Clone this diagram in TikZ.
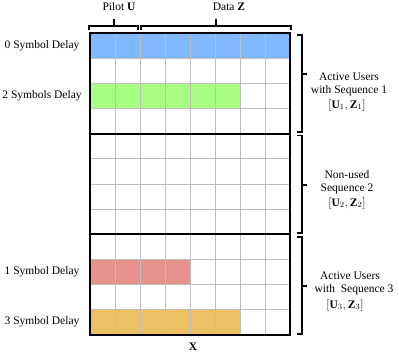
\documentclass[tikz,border=0pt]{standalone}
\usepackage{fontspec}
\setmainfont{Liberation Serif}
\definecolor{barblue}{RGB}{128,185,255}
\definecolor{bargreen}{RGB}{166,255,128}
\definecolor{barpink}{RGB}{230,145,140}
\definecolor{baryellow}{RGB}{236,192,100}
\definecolor{gridgray}{RGB}{190,190,190}
\begin{document}
\begin{tikzpicture}[x=1pt,y=-1pt,
  lab/.style={font=\fontsize{11.5}{14}\selectfont, inner sep=0pt},
  brk/.style={line width=1.6pt},
  cell/.style={draw=gridgray, line width=0.9pt},
  frame/.style={line width=1.8pt}]
\useasboundingbox (0,0) rectangle (399,356);
% coloured bars
\fill[barblue] (90,33) rectangle (290,58.17);
\fill[bargreen] (90,83.33) rectangle (240,108.5);
\fill[barpink] (90,259.5) rectangle (190,284.67);
\fill[baryellow] (90,309.83) rectangle (240,335);
% grid
\foreach \i in {1,...,7} \draw[cell] ({90+25*\i},33) -- ({90+25*\i},335);
\foreach \k in {1,...,11} \draw[cell] (90,{33+25.1667*\k}) -- (290,{33+25.1667*\k});
% thick frame and section lines
\draw[frame] (90,33) rectangle (290,335);
\draw[frame] (90,133.67) -- (290,133.67);
\draw[frame] (90,234.33) -- (290,234.33);
% top brackets
\draw[brk] (89,29.5) -- (89,26) -- (138,26) -- (138,29.5);
\draw[brk] (114,26) -- (114,19);
\draw[brk] (141,29.5) -- (141,26) -- (291,26) -- (291,29.5);
\draw[brk] (216,26) -- (216,19);
% right brackets
\draw[brk] (297,35) -- (302,35) -- (302,132) -- (297,132);
\draw[brk] (302,74) -- (307,74);
\draw[brk] (297,135.5) -- (302,135.5) -- (302,233) -- (297,233);
\draw[brk] (302,185) -- (307,185);
\draw[brk] (297,237) -- (302,237) -- (302,334) -- (297,334);
\draw[brk] (302,286) -- (307,286);
% top labels
\node[lab] (pilot) at (119,7) {Pilot $\mathbf{U}$};
\node[lab] (data) at (229,7) {Data $\mathbf{Z}$};
% left labels
\node[lab] (d0) at (42,46) {0 Symbol Delay};
\node[lab] (d2) at (42,96) {2 Symbols Delay};
\node[lab] (d1) at (42,272) {1 Symbol Delay};
\node[lab] (d3) at (42,322) {3 Symbol Delay};
% bottom label
\node[lab] (xl) at (193,347) {$\mathbf{X}$};
% right labels
\node[lab] (a1) at (349,77) {Active Users};
\node[lab] (b1) at (349,91) {with Sequence 1};
\node[lab] (c1) at (347,105) {$[\mathbf{U}_1, \mathbf{Z}_1]$};
\node[lab] (a2) at (347,175) {Non-used};
\node[lab] (b2) at (347,189) {Sequence 2};
\node[lab] (c2) at (347,203) {$[\mathbf{U}_2, \mathbf{Z}_2]$};
\node[lab] (a3) at (350,276) {Active Users};
\node[lab] (b3) at (354,290) {with\ \ Sequence 3};
\node[lab] (c3) at (345,305) {$[\mathbf{U}_3, \mathbf{Z}_3]$};
\end{tikzpicture}
\end{document}
